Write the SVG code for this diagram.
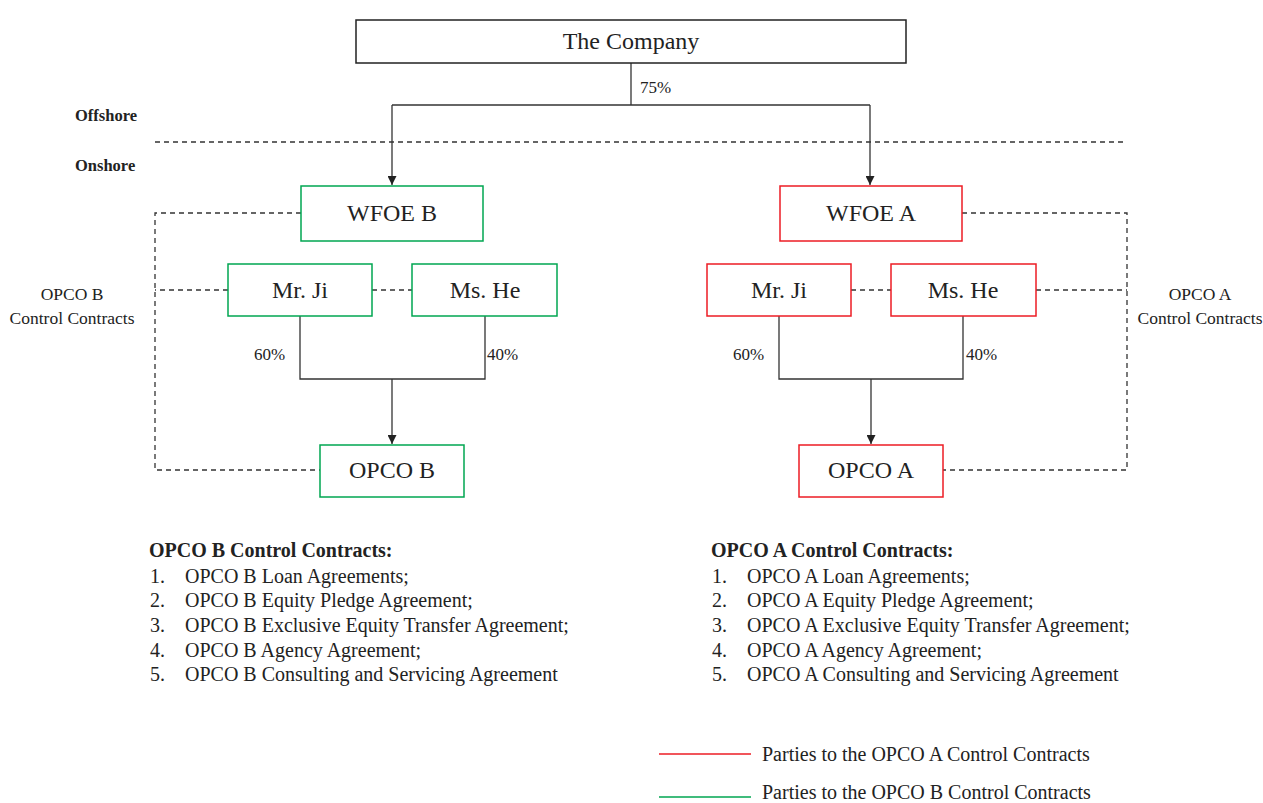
<svg xmlns="http://www.w3.org/2000/svg" width="1263" height="803" viewBox="0 0 1263 803">
<style>
text{font-family:"Liberation Serif","Times New Roman",serif;fill:#222}
.box{fill:#fff;stroke-width:1.5}
.g{stroke:#00a651}
.r{stroke:#ed1c24}
.blk{stroke:#222}
.bt{font-size:24px;text-anchor:middle}
.pct{font-size:17px}
.lbl{font-size:17.5px;text-anchor:middle}
.bold{font-weight:bold}
.side{font-size:16.5px;font-weight:bold}
.li{font-size:20px}
.ln{fill:none;stroke:#333;stroke-width:1.3}
.dash{fill:none;stroke:#333;stroke-width:1.3;stroke-dasharray:5 4}
</style>
<defs>
<marker id="ah" viewBox="0 0 10 10" refX="10" refY="5" markerWidth="9" markerHeight="9" markerUnits="userSpaceOnUse" orient="auto">
<path d="M0,0 L10,5 L0,10 z" fill="#222"/>
</marker>
</defs>

<g id="connectors">
<path class="ln" d="M631,63 V105"/>
<path class="ln" d="M392,105 H870"/>
<path class="ln" d="M392,105 V185" marker-end="url(#ah)"/>
<path class="ln" d="M870,105 V185" marker-end="url(#ah)"/>
<path class="ln" d="M300,316 V379 H485 V316"/>
<path class="ln" d="M392,379 V444" marker-end="url(#ah)"/>
<path class="ln" d="M779,316 V379 H963 V316"/>
<path class="ln" d="M871,379 V444" marker-end="url(#ah)"/>
<path class="dash" d="M155,142 H1127"/>
<path class="dash" d="M301,213 H155 V470 H320"/>
<path class="dash" d="M228,290 H155"/>
<path class="dash" d="M372,290 H412"/>
<path class="dash" d="M962,213 H1127 V470 H943"/>
<path class="dash" d="M1036,290 H1127"/>
<path class="dash" d="M851,290 H891"/>
</g>

<g id="company"><rect class="box blk" x="356" y="20" width="550" height="43"/><text class="bt" x="631" y="49">The Company</text></g>
<text class="pct" x="640" y="93">75%</text>
<text class="side" x="75" y="121">Offshore</text>
<text class="side" x="75" y="171">Onshore</text>

<g id="wfoe-b"><rect class="box g" x="301" y="186" width="182" height="55"/><text class="bt" x="392" y="221">WFOE B</text></g>
<g id="wfoe-a"><rect class="box r" x="780" y="186" width="182" height="55"/><text class="bt" x="871" y="221">WFOE A</text></g>
<g id="mrji-b"><rect class="box g" x="228" y="264" width="144" height="52"/><text class="bt" x="300" y="298">Mr. Ji</text></g>
<g id="mshe-b"><rect class="box g" x="412" y="264" width="145" height="52"/><text class="bt" x="485" y="298">Ms. He</text></g>
<g id="mrji-a"><rect class="box r" x="707" y="264" width="144" height="52"/><text class="bt" x="779" y="298">Mr. Ji</text></g>
<g id="mshe-a"><rect class="box r" x="891" y="264" width="145" height="52"/><text class="bt" x="963" y="298">Ms. He</text></g>
<g id="opco-b"><rect class="box g" x="320" y="445" width="144" height="52"/><text class="bt" x="392" y="478">OPCO B</text></g>
<g id="opco-a"><rect class="box r" x="799" y="445" width="144" height="52"/><text class="bt" x="871" y="478">OPCO A</text></g>

<text class="pct" x="254" y="360">60%</text>
<text class="pct" x="487" y="360">40%</text>
<text class="pct" x="733" y="360">60%</text>
<text class="pct" x="966" y="360">40%</text>

<text class="lbl" x="72" y="300">OPCO B</text>
<text class="lbl" x="72" y="324">Control Contracts</text>
<text class="lbl" x="1200" y="300">OPCO A</text>
<text class="lbl" x="1200" y="324">Control Contracts</text>

<g id="list-b">
<text class="li bold" x="149" y="557">OPCO B Control Contracts:</text>
<text class="li" x="150" y="583">1.</text><text class="li" x="185" y="583">OPCO B Loan Agreements;</text>
<text class="li" x="150" y="607">2.</text><text class="li" x="185" y="607">OPCO B Equity Pledge Agreement;</text>
<text class="li" x="150" y="632">3.</text><text class="li" x="185" y="632">OPCO B Exclusive Equity Transfer Agreement;</text>
<text class="li" x="150" y="657">4.</text><text class="li" x="185" y="657">OPCO B Agency Agreement;</text>
<text class="li" x="150" y="681">5.</text><text class="li" x="185" y="681">OPCO B Consulting and Servicing Agreement</text>
</g>
<g id="list-a">
<text class="li bold" x="711" y="557">OPCO A Control Contracts:</text>
<text class="li" x="712" y="583">1.</text><text class="li" x="747" y="583">OPCO A Loan Agreements;</text>
<text class="li" x="712" y="607">2.</text><text class="li" x="747" y="607">OPCO A Equity Pledge Agreement;</text>
<text class="li" x="712" y="632">3.</text><text class="li" x="747" y="632">OPCO A Exclusive Equity Transfer Agreement;</text>
<text class="li" x="712" y="657">4.</text><text class="li" x="747" y="657">OPCO A Agency Agreement;</text>
<text class="li" x="712" y="681">5.</text><text class="li" x="747" y="681">OPCO A Consulting and Servicing Agreement</text>
</g>

<g id="legend">
<line x1="659" y1="754" x2="751" y2="754" stroke="#ed1c24" stroke-width="1.5"/>
<text class="li" x="762" y="761">Parties to the OPCO A Control Contracts</text>
<line x1="659" y1="797" x2="751" y2="797" stroke="#00a651" stroke-width="1.5"/>
<text class="li" x="762" y="799">Parties to the OPCO B Control Contracts</text>
</g>
</svg>
